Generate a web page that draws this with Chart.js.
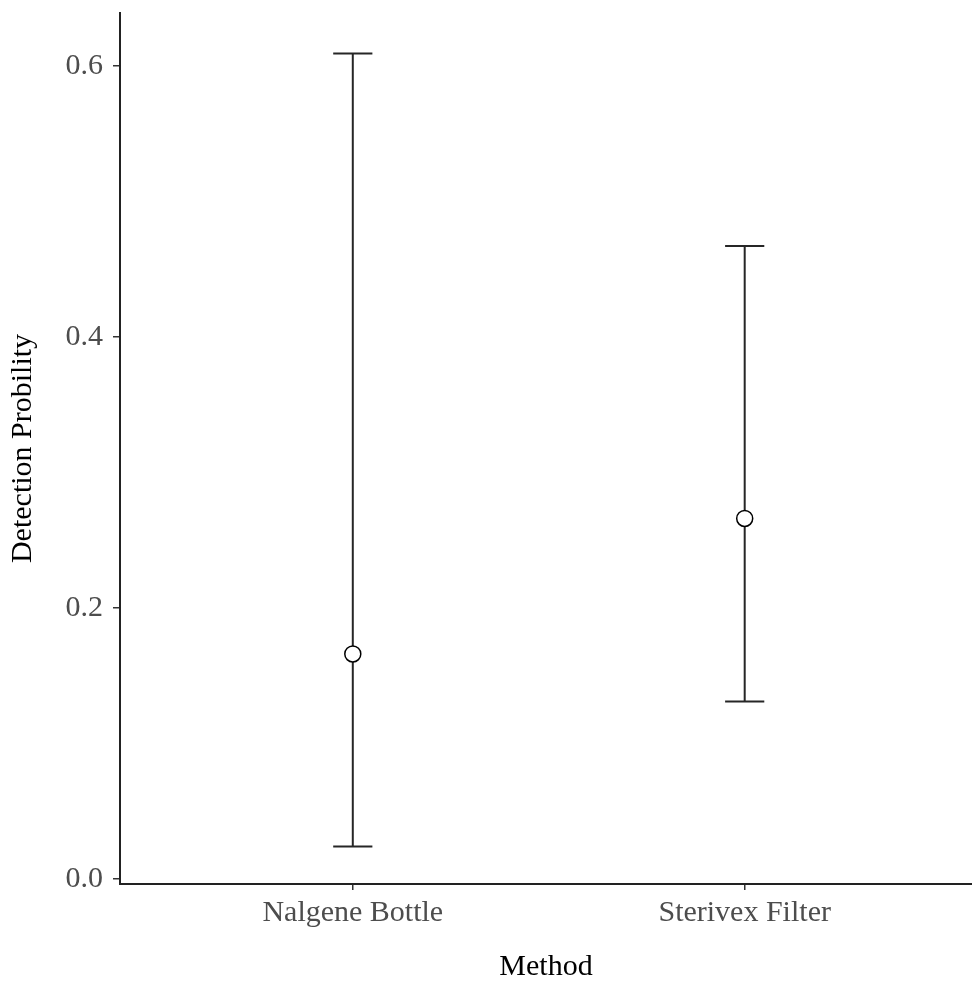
<!DOCTYPE html>
<html>
<head>
<meta charset="utf-8">
<script src="https://cdn.jsdelivr.net/npm/chart.js@4.4.0/dist/chart.umd.min.js"></script>
<style>
  html, body { margin: 0; padding: 0; background: #fff; }
  #wrap { width: 972px; height: 988px; }
</style>
</head>
<body>
<div id="wrap"><canvas id="myChart" width="972" height="988"></canvas></div>
<script>
// data
const methods   = ['Nalgene Bottle', 'Sterivex Filter'];
const estimate  = [0.166, 0.266];
const lower     = [0.024, 0.131];
const upper     = [0.609, 0.467];
const yTicks    = [0.0, 0.2, 0.4, 0.6];

const serif = "'Liberation Serif', 'DejaVu Serif', serif";

/* error bars drawn through the scales */
const errorBars = {
    id: 'errorBars',
    beforeDatasetsDraw(chart) {
        const ctx = chart.ctx;
        const xs = chart.scales.x, ys = chart.scales.y;
        ctx.save();
        ctx.strokeStyle = '#262626';
        ctx.lineWidth = 2;
        methods.forEach((m, i) => {
            const x = xs.getPixelForValue(i + 1);
            const yl = ys.getPixelForValue(lower[i]);
            const yu = ys.getPixelForValue(upper[i]);
            const half = xs.getPixelForValue(i + 1.05) - x;
            ctx.beginPath();
            ctx.moveTo(x, yl); ctx.lineTo(x, yu);
            ctx.moveTo(x - half, yu); ctx.lineTo(x + half, yu);
            ctx.moveTo(x - half, yl); ctx.lineTo(x + half, yl);
            ctx.stroke();
        });
        ctx.restore();
    }
};

let ctx = document.getElementById('myChart').getContext('2d');
let myChart = new Chart(ctx, {
    type: 'scatter',
    data: {
        datasets: [{
            data: estimate.map((v, i) => ({x: i + 1, y: v})),
            backgroundColor: '#ffffff',
            borderColor: '#000000',
            borderWidth: 1.5,
            pointRadius: 8,
            pointHoverRadius: 8
        }]
    },
    plugins: [errorBars],
    options: {
        responsive: false,
        animation: false,
        layout: { autoPadding: false, padding: { top: 13, right: 0, left: 0, bottom: 0 } },
        plugins: { legend: { display: false }, tooltip: { enabled: false } },
        scales: {
            x: {
                type: 'linear',
                min: 0.406,
                max: 2.58,
                afterBuildTicks: s => { s.ticks = methods.map((m, i) => ({value: i + 1})); },
                afterFit: s => { s.height = 104; s.paddingLeft = 0; s.paddingRight = 0; },
                ticks: {
                    callback: (v) => methods[v - 1],
                    color: '#4d4d4d',
                    font: { family: serif, size: 30 },
                    padding: 5,
                    maxRotation: 0
                },
                grid: { drawOnChartArea: false, drawTicks: true, tickLength: 6, color: '#333', lineWidth: 1.5 },
                border: { display: true, color: '#222', width: 2 },
                title: {
                    display: true,
                    text: 'Method',
                    color: '#000',
                    font: { family: serif, size: 30 },
                    padding: { top: 0, bottom: 3 }
                }
            },
            y: {
                min: -0.0037,
                max: 0.6389,
                afterBuildTicks: s => { s.ticks = yTicks.map(v => ({value: v})); },
                afterFit: s => { s.width = 120; s.paddingTop = 0; s.paddingBottom = 0; },
                ticks: {
                    callback: (v) => v.toFixed(1),
                    color: '#4d4d4d',
                    font: { family: serif, size: 30 },
                    padding: 10
                },
                grid: { drawOnChartArea: false, drawTicks: true, tickLength: 7, color: '#333', lineWidth: 1.5 },
                border: { display: true, color: '#222', width: 2 },
                title: {
                    display: true,
                    text: 'Detection Probility',
                    color: '#000',
                    font: { family: serif, size: 30 },
                    padding: { top: 5, bottom: 0 }
                }
            }
        }
    }
});
</script>
</body>
</html>
